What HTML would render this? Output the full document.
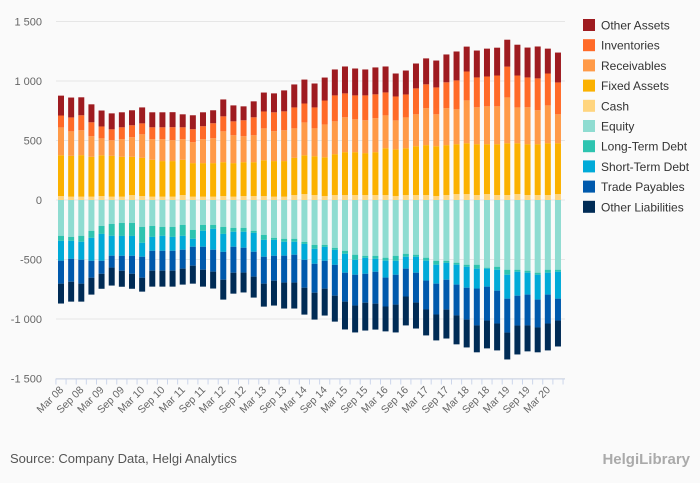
<!DOCTYPE html>
<html><head><meta charset="utf-8"><style>
body{margin:0;background:#fafafa;font-family:"Liberation Sans",sans-serif;}
#wrap{position:relative;width:700px;height:483px;background:#fafafa;overflow:hidden}
</style></head><body>
<div id="wrap">
<svg id="chart" width="700" height="483"></svg>
</div>
<script>
const categories = [];
(function(){const y0=8;for(let i=0;i<50;i++){const m=["Mar","Jun","Sep","Dec"][i%4];const y=y0+Math.floor(i/4);categories.push(m+" "+String(y).padStart(2,"0"));}})();
const cash=[33,28,28,28,33,28,28,42,33,28,28,28,42,28,28,28,33,28,33,33,33,28,28,42,50,42,33,42,42,42,42,42,42,33,42,42,42,33,42,50,50,42,50,42,42,50,42,42,42,50];
const fixedAssets=[343,343,349,335,343,343,335,321,321,310,299,299,296,282,282,282,285,282,285,285,301,299,299,312,326,326,326,343,360,360,352,360,393,393,393,410,419,419,419,419,427,427,419,427,435,427,427,427,435,427];
const receivables=[234,206,209,173,142,131,148,165,198,173,184,176,173,176,201,209,259,234,218,226,268,251,259,248,276,234,276,276,293,276,276,285,276,243,259,268,310,268,310,293,360,310,318,318,385,301,310,285,318,243];
const inventories=[100,117,126,117,100,92,100,100,92,100,100,109,100,109,109,126,126,117,134,151,142,159,159,176,159,176,201,218,201,201,209,201,193,201,193,218,201,226,218,243,243,251,251,259,259,268,251,268,268,268];
const otherAssets=[167,167,151,151,134,134,126,126,134,126,126,126,109,117,117,109,142,134,117,134,159,159,176,193,201,201,193,218,226,226,218,226,218,193,201,209,218,226,234,243,209,226,234,234,226,259,251,268,209,251];
const equity=[301,310,301,259,218,201,193,193,226,218,226,226,209,251,209,209,226,234,234,259,293,318,326,326,352,377,377,402,427,460,469,469,485,469,452,460,485,511,511,527,544,544,569,561,586,586,594,611,586,586];
const longTermDebt=[42,33,50,59,67,100,109,109,134,92,75,84,92,75,50,33,59,33,33,17,42,17,25,25,17,33,17,17,25,42,17,25,25,42,25,17,25,33,17,17,17,33,8,25,42,17,17,17,25,17];
const shortTermDebt=[167,151,151,193,226,167,167,167,117,117,126,117,117,67,134,176,151,126,134,159,142,134,117,109,134,126,117,126,159,126,134,109,142,117,100,134,167,159,142,167,176,167,151,176,201,201,184,209,184,226];
const tradePayables=[193,193,201,142,109,100,126,151,176,167,167,167,159,159,193,184,234,218,209,209,226,209,226,234,234,243,234,259,243,259,243,268,243,251,234,251,243,259,251,259,268,310,285,276,285,251,259,234,243,184];
const otherLiabilities=[167,167,151,142,126,151,134,126,117,134,134,134,134,151,142,142,167,176,167,176,193,209,218,218,226,226,226,218,234,226,234,218,209,234,243,218,218,218,243,243,234,226,234,226,226,243,218,209,226,218];
const yTicks=[1500,1000,500,0,-500,-1000,-1500];
const yTickLabels=["1 500","1 000","500","0","-500","-1 000","-1 500"];

const posSeries=[["Cash",cash,"#ffd57f"],["Fixed Assets",fixedAssets,"#fbb100"],["Receivables",receivables,"#ff9a48"],["Inventories",inventories,"#ff6a28"],["Other Assets",otherAssets,"#9e1b20"]];
const negSeries=[["Equity",equity,"#8fdcd1"],["Long-Term Debt",longTermDebt,"#2ec4b0"],["Short-Term Debt",shortTermDebt,"#00aad8"],["Trade Payables",tradePayables,"#0059ac"],["Other Liabilities",otherLiabilities,"#002b55"]];

const NS="http://www.w3.org/2000/svg";
const svg=document.getElementById("chart");
const X0=56,X1=565,Y0=200,SC=178.5/1500;
function yPos(v){return Y0-v*SC;}
function xPos(i){return 61+i*(X1-56-10)/49.2;}
function mk(t,a){const e=document.createElementNS(NS,t);for(const k in a)e.setAttribute(k,a[k]);svg.appendChild(e);return e;}

yTicks.forEach((t,i)=>{
  const g=mk("line",{x1:X0,x2:X1,y1:yPos(t),y2:yPos(t),stroke:"#e6e6e6","stroke-width":1});
  
  
  const l=mk("text",{x:42,y:yPos(t)+4,"text-anchor":"end","font-size":11,fill:"#666"});
  l.textContent=yTickLabels[i];
  
  
});
const ax=mk("line",{x1:X0,x2:X1,y1:yPos(-1500)+0.5,y2:yPos(-1500)+0.5,stroke:"#ccd6eb"});


const step=(X1-56-10)/49.2;
for(let i=0;i<=50;i++){
  const tx=xPos(i)-step/2;
  const tk=mk("line",{x1:tx,x2:tx,y1:yPos(-1500),y2:yPos(-1500)+6,stroke:"#ccd6eb"});
  
  
}
categories.forEach((c,i)=>{
  const x=xPos(i);
  let up=0,dn=0;
  posSeries.forEach(s=>{const v=s[1][i];const r=mk("rect",{x:x-3,y:yPos(up+v),width:6,height:v*SC,fill:s[2]});up+=v;
    
    });
  negSeries.forEach(s=>{const v=s[1][i];const r=mk("rect",{x:x-3,y:yPos(-dn),width:6,height:v*SC,fill:s[2]});dn+=v;
    
    });
  if(i%2===0){
    const t=mk("text",{x:x+3,y:yPos(-1500)+12,"text-anchor":"end","font-size":10.5,fill:"#666",transform:`rotate(-45 ${x+3} ${yPos(-1500)+12})`});
    t.textContent=c;
    
    
  }
});
const legend=[["Other Assets","#9e1b20"],["Inventories","#ff6a28"],["Receivables","#ff9a48"],["Fixed Assets","#fbb100"],["Cash","#ffd57f"],["Equity","#8fdcd1"],["Long-Term Debt","#2ec4b0"],["Short-Term Debt","#00aad8"],["Trade Payables","#0059ac"],["Other Liabilities","#002b55"]];
legend.forEach((l,i)=>{
  const y=25+i*20.2;
  const r=mk("rect",{x:583,y:y-6,width:12,height:12,fill:l[1]});
  
  
  const t=mk("text",{x:601,y:y+4.5,"font-size":12,fill:"#333"});
  t.textContent=l[0];
  
  
});
const src=mk("text",{x:10,y:463,"font-size":13,fill:"#555"});
src.textContent="Source: Company Data, Helgi Analytics";


const logo=mk("text",{x:690,y:464,"text-anchor":"end","font-size":15,"font-weight":"bold",fill:"#aaa"});
logo.textContent="HelgiLibrary";


</script>
</body></html>
